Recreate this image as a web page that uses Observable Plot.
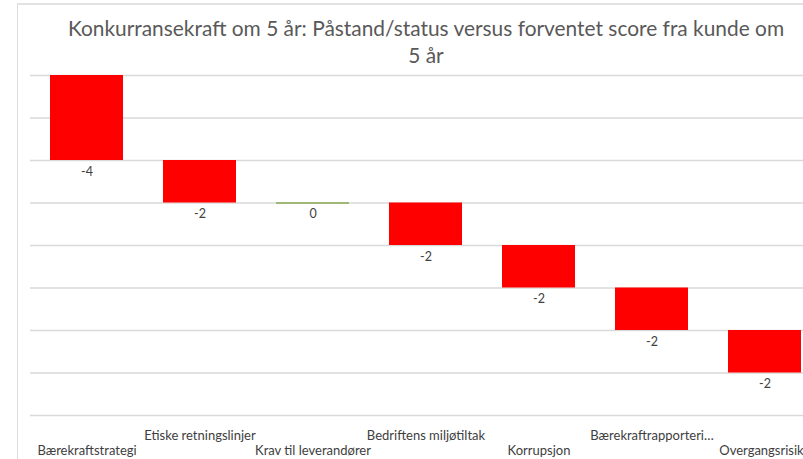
<!DOCTYPE html>
<html>
<head>
<meta charset="utf-8">
<script src="https://cdn.jsdelivr.net/npm/d3@7"></script>
<script src="https://cdn.jsdelivr.net/npm/@observablehq/plot@0.6"></script>
<style>
  html, body { margin: 0; padding: 0; background: #fff; overflow: hidden; }
  #wrap { position: relative; width: 803px; height: 459px; overflow: hidden; font-family: Lato, "Open Sans", sans-serif; }
  #frame { position: absolute; left: 17px; top: 3px; width: 800px; height: 470px; border-left: 1px solid #dcdcdc; border-top: 2px solid #e2e2e2; pointer-events: none; }
  #title { position: absolute; left: 0; top: 0; width: 852px; height: 68px; text-align: center; color: #595959; font-size: 20.9px; line-height: 27px; padding-top: 14px; box-sizing: border-box; }
  #chart { position: absolute; left: 0; top: 68px; }
</style>
</head>
<body>
<div id="wrap">
  <div id="title">Konkurransekraft om 5 år: Påstand/status versus forventet score fra kunde om<br>5 år</div>
  <div id="chart"></div>
  <div id="frame"></div>
</div>
<script>
const categories = ["Bærekraftstrategi", "Etiske retningslinjer", "Krav til leverandører", "Bedriftens miljøtiltak", "Korrupsjon", "Bærekraftrapporteri…", "Overgangsrisiko"];
const values = [-4, -2, 0, -2, -2, -2, -2];
const gridValues = [0, -2, -4, -6, -8, -10, -12, -14, -16];

const ends = Array.from(d3.cumsum(values));
const rows = categories.map((c, i) => ({
  cat: c,
  value: values[i],
  start: i === 0 ? 0 : ends[i - 1],
  end: ends[i],
  row: i % 2
}));

const font = "Lato, 'Open Sans', sans-serif";

const plot = Plot.plot({
  width: 803,
  height: 391,
  marginTop: 7,
  marginBottom: 44,
  marginLeft: 30,
  marginRight: 0,
  style: { fontFamily: font, background: "transparent" },
  x: { domain: categories, range: [30, 821], paddingInner: 0.354, paddingOuter: 0.177, axis: null },
  y: { domain: [-16, 0], axis: null },
  marks: [
    Plot.ruleY(gridValues, { stroke: "#d9d9d9", strokeWidth: 1.3 }),
    Plot.barY(rows.filter(d => d.value !== 0), { x: "cat", y1: "start", y2: "end", fill: "#ff0000" }),
    Plot.tickY(rows.filter(d => d.value === 0), { x: "cat", y: "end", stroke: "#9fb878", strokeWidth: 2 }),
    Plot.text(rows, { x: "cat", y: "end", text: d => String(d.value), dy: 11, fill: "#404040", fontSize: 12.5 }),
    Plot.text(rows.filter(d => d.row === 1), { x: "cat", y: () => -16, text: "cat", dy: 20, fill: "#404040", fontSize: 13 }),
    Plot.text(rows.filter(d => d.row === 0), { x: "cat", y: () => -16, text: "cat", dy: 35, fill: "#404040", fontSize: 13 })
  ]
});
document.getElementById("chart").appendChild(plot);
</script>
</body>
</html>
